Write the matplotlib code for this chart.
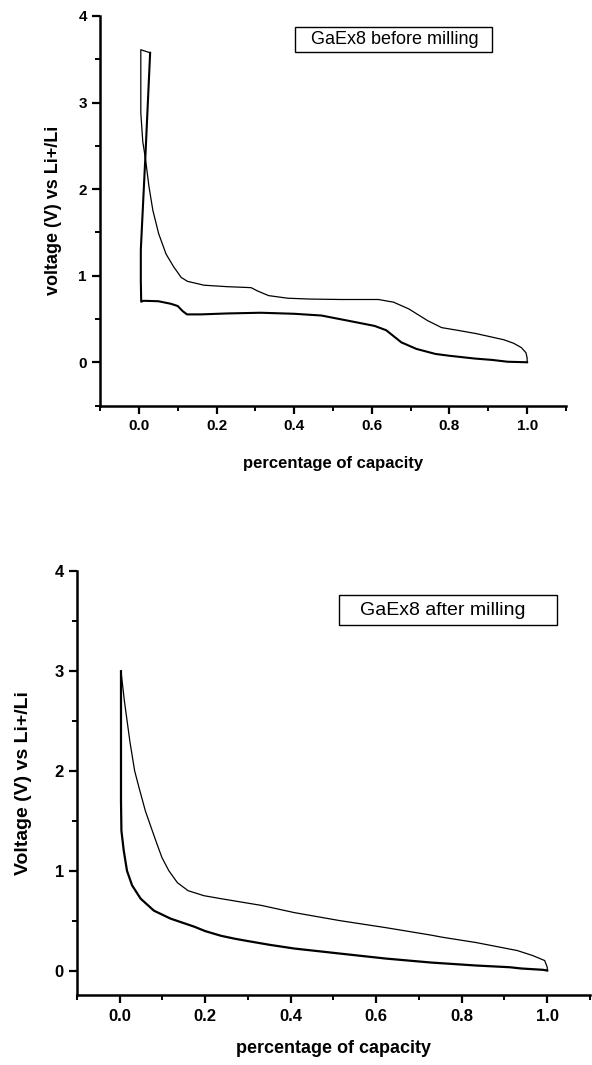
import matplotlib
matplotlib.use("Agg")
import matplotlib.pyplot as plt
from matplotlib.ticker import MultipleLocator, FormatStrFormatter
from matplotlib.patches import Rectangle

plt.rcParams['font.family'] = ['Liberation Sans', 'DejaVu Sans']

# --- GaEx8 before milling ---
# discharge (thick line): initial drop, plateaus, down to 0 V at full capacity
before_dis_x = [0.029, 0.017, 0.005, 0.005, 0.006, 0.012, 0.05, 0.082, 0.1, 0.113, 0.124,
                0.16, 0.228, 0.314, 0.40, 0.47, 0.539, 0.607, 0.637, 0.676, 0.715,
                0.764, 0.80, 0.865, 0.91, 0.95, 1.0]
before_dis_y = [3.575, 2.40, 1.30, 0.94, 0.70, 0.71, 0.705, 0.676, 0.65, 0.59, 0.553,
                0.553, 0.564, 0.572, 0.56, 0.54, 0.48, 0.42, 0.37, 0.23, 0.154,
                0.096, 0.075, 0.043, 0.027, 0.006, 0.0]
# charge (thin line): from full capacity back up to the top
before_chg_x = [1.0, 1.0, 0.997, 0.985, 0.965, 0.94, 0.91, 0.87, 0.82, 0.78, 0.744,
                0.695, 0.656, 0.617, 0.52, 0.441, 0.383, 0.334, 0.305, 0.289, 0.228,
                0.168, 0.125, 0.109, 0.09, 0.07, 0.051, 0.036, 0.026, 0.017, 0.01,
                0.005, 0.005, 0.029]
before_chg_y = [0.0, 0.05, 0.11, 0.17, 0.22, 0.26, 0.29, 0.33, 0.37, 0.40, 0.48,
                0.617, 0.694, 0.725, 0.725, 0.73, 0.74, 0.77, 0.825, 0.862, 0.873,
                0.89, 0.935, 0.98, 1.10, 1.25, 1.485, 1.755, 2.03, 2.35, 2.55,
                2.88, 3.61, 3.575]

# --- GaEx8 after milling ---
after_dis_x = [0.003, 0.003, 0.004, 0.0095, 0.017, 0.029, 0.049, 0.08, 0.119, 0.174,
               0.20, 0.237, 0.27, 0.30, 0.35, 0.409, 0.515, 0.622, 0.728, 0.834,
               0.912, 0.94, 0.99, 1.0]
after_dis_y = [3.0, 1.70, 1.40, 1.20, 1.0, 0.853, 0.72, 0.60, 0.52, 0.44,
               0.395, 0.348, 0.318, 0.295, 0.258, 0.22, 0.17, 0.12, 0.08, 0.05,
               0.033, 0.02, 0.007, 0.0]
after_chg_x = [1.0, 1.0, 0.994, 0.966, 0.93, 0.834, 0.754, 0.728, 0.622, 0.515, 0.409,
               0.331, 0.237, 0.197, 0.16, 0.135, 0.115, 0.099, 0.087, 0.073, 0.06,
               0.046, 0.035, 0.024, 0.011, 0.003]
after_chg_y = [0.0, 0.033, 0.10, 0.15, 0.20, 0.28, 0.334, 0.355, 0.43, 0.50, 0.58,
               0.653, 0.72, 0.75, 0.80, 0.88, 1.0, 1.13, 1.27, 1.44, 1.6,
               1.82, 2.0, 2.29, 2.70, 3.0]

fig = plt.figure(figsize=(5.92, 10.65), dpi=100)
ax1 = fig.add_axes([0.169, 0.6192, 0.787, 0.3658])
ax2 = fig.add_axes([0.130, 0.0653, 0.8666, 0.3981])


def style(ax, ymin, fs_tick, fs_lab, ylab, lpad_x, lpad_y):
    ax.set_xlim(-0.1, 1.1)
    ax.set_ylim(ymin, 4)
    for s in ['top', 'right']:
        ax.spines[s].set_visible(False)
    for s in ['left', 'bottom']:
        ax.spines[s].set_linewidth(1.8)
    ax.xaxis.set_major_locator(MultipleLocator(0.2))
    ax.xaxis.set_minor_locator(MultipleLocator(0.1))
    ax.yaxis.set_major_locator(MultipleLocator(1))
    ax.yaxis.set_minor_locator(MultipleLocator(0.5))
    ax.xaxis.set_major_formatter(FormatStrFormatter('%.1f'))
    ax.yaxis.set_major_formatter(FormatStrFormatter('%d'))
    ax.tick_params(which='major', direction='out', length=5.5, width=1.6,
                   labelsize=fs_tick, pad=4)
    ax.tick_params(which='minor', direction='out', length=3.5, width=1.4)
    for lab in ax.get_xticklabels() + ax.get_yticklabels():
        lab.set_fontweight('bold')
    ax.set_xlabel('percentage of capacity', fontsize=fs_lab, fontweight='bold',
                  labelpad=lpad_x)
    ax.set_ylabel(ylab, fontsize=fs_lab + 1, fontweight='bold', labelpad=lpad_y)


style(ax1, -0.5, 11, 12, 'voltage (V) vs Li+/Li', 17, 12)
ax1.plot(before_dis_x, before_dis_y, color='black', lw=1.5)
ax1.plot(before_chg_x, before_chg_y, color='black', lw=0.9)
ax1.add_patch(Rectangle((0.418, 0.907), 0.423, 0.0655, transform=ax1.transAxes,
                        fill=False, edgecolor='black', lw=1.0))
ax1.text(0.632, 0.94, 'GaEx8 before milling', transform=ax1.transAxes,
         ha='center', va='center', fontsize=13)

style(ax2, -0.25, 12, 13, 'Voltage (V) vs Li+/Li', 12, 16)
ax2.plot(after_dis_x, after_dis_y, color='black', lw=1.6)
ax2.plot(after_chg_x, after_chg_y, color='black', lw=0.9)
ax2.add_patch(Rectangle((0.511, 0.874), 0.425, 0.0706, transform=ax2.transAxes,
                        fill=False, edgecolor='black', lw=1.0))
ax2.text(0.713, 0.909, 'GaEx8 after milling', transform=ax2.transAxes,
         ha='center', va='center', fontsize=14)

plt.savefig('out.png', dpi=100)
